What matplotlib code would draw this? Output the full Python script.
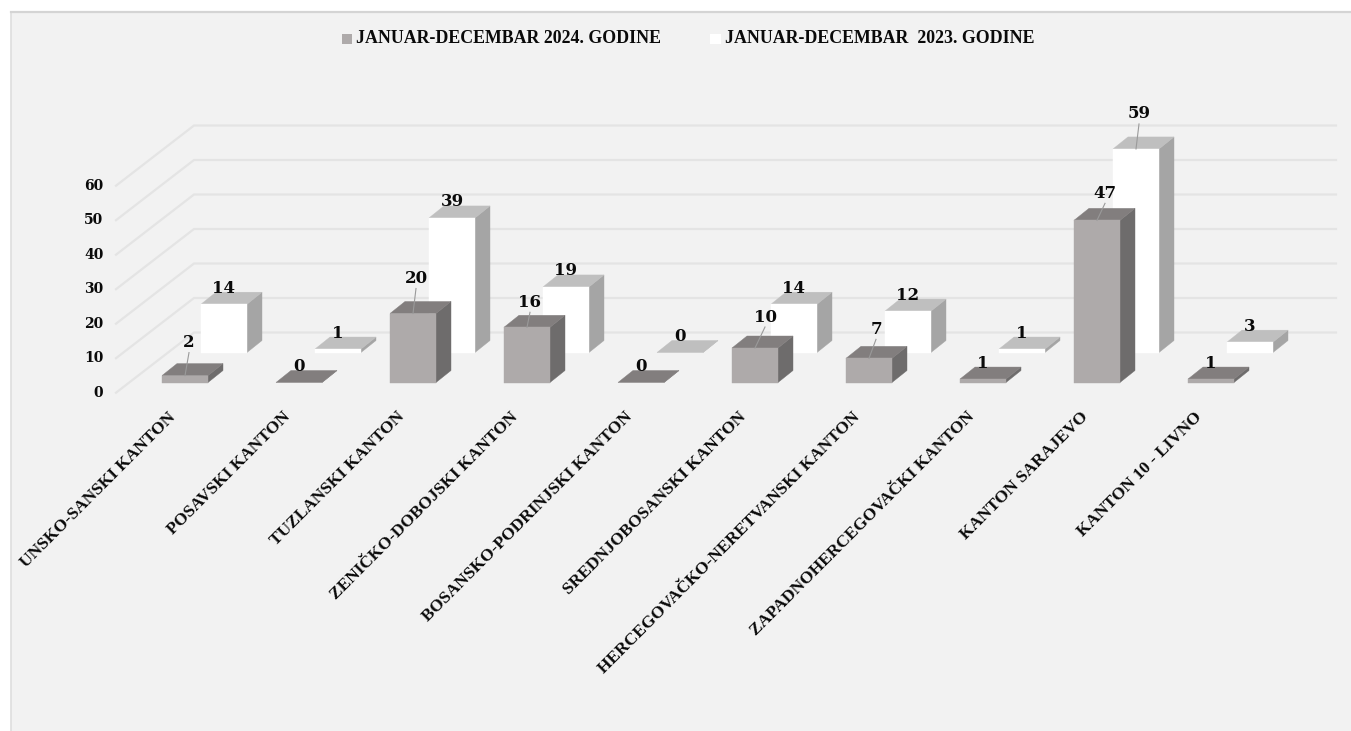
import matplotlib
matplotlib.use('Agg')
import matplotlib.pyplot as plt
from matplotlib.patches import Polygon, Rectangle

cantons = ['UNSKO-SANSKI KANTON', 'POSAVSKI KANTON', 'TUZLANSKI KANTON', 'ZENIČKO-DOBOJSKI KANTON',
           'BOSANSKO-PODRINJSKI KANTON', 'SREDNJOBOSANSKI KANTON', 'HERCEGOVAČKO-NERETVANSKI KANTON',
           'ZAPADNOHERCEGOVAČKI KANTON', 'KANTON SARAJEVO', 'KANTON 10 - LIVNO']
values_2024 = [2, 0, 20, 16, 0, 10, 7, 1, 47, 1]
values_2023 = [14, 1, 39, 19, 0, 14, 12, 1, 59, 3]
y_ticks = [0, 10, 20, 30, 40, 50, 60]
legend_2024 = 'JANUAR-DECEMBAR 2024. GODINE'
legend_2023 = 'JANUAR-DECEMBAR  2023. GODINE'

# fake 3d geometry, everything in image pixels
PX_PER_UNIT = 3.45
BAR_W = 46
STEP = 114
DX, DY = 15, 12          # bar depth
BASE_FRONT = (162, 382.5)
BASE_BACK = (201, 352.5)

serif_bold = dict(family='Liberation Serif', fontweight='bold', color='#0a0a0a')
num_bold = dict(family='DejaVu Serif', fontweight='bold', color='#0a0a0a')

fig = plt.figure(figsize=(13.51, 7.31), dpi=100, facecolor='white')
ax = fig.add_axes([0, 0, 1, 1])
ax.set_xlim(0, 1351)
ax.set_ylim(731, 0)
ax.axis('off')

# panel
ax.add_patch(Rectangle((10.5, 12), 1341, 719, fc='#f2f2f2', ec='none', zorder=0))
ax.plot([10.5, 10.5], [12, 731], color='#dedede', lw=1.2, zorder=1)
ax.plot([10.5, 1351], [12, 12], color='#d4d4d4', lw=1.6, zorder=1)

# gridlines: side wall + back wall
for t in y_ticks:
    y_back = 332.5 - t * PX_PER_UNIT
    y_left = 392.7 - t * PX_PER_UNIT
    ax.plot([116, 194, 1336], [y_left, y_back, y_back], color='#e4e4e4', lw=1.6, zorder=1,
            solid_joinstyle='miter')
    ax.text(103.5, y_left, str(t), ha='right', va='center', fontsize=10, **num_bold)


def draw_bar(x, base, val, front, top, side):
    h = val * PX_PER_UNIT
    y = base - h
    ax.add_patch(Polygon([(x + BAR_W, base), (x + BAR_W + DX, base - DY), (x + BAR_W + DX, y - DY), (x + BAR_W, y)],
                         fc=side, ec=side, lw=0.3, zorder=3))
    ax.add_patch(Polygon([(x, y), (x + DX, y - DY), (x + BAR_W + DX, y - DY), (x + BAR_W, y)],
                         fc=top, ec=top, lw=0.3, zorder=3))
    if val > 0:
        ax.add_patch(Rectangle((x, y), BAR_W, h, fc=front, ec=front, lw=0.3, zorder=3))
    return y


def put_label(x, y, val, lift, shift):
    cx = x + BAR_W / 2
    ax.text(cx + shift, y - lift + 1, str(val), ha='center', va='center', fontsize=12, zorder=6, **num_bold)
    if lift > 20:
        ax.plot([cx + shift, cx], [y - lift + 11, y], color='#9a9a9a', lw=0.8, zorder=5)


# labels moved off the bar get a leader line (same as the excel chart): index -> (lift, shift)
moved_2024 = {0: (34, 4), 2: (36, 3), 3: (26, 3), 5: (32, 10), 6: (30, 7), 8: (28, 8)}
moved_2023 = {8: (36, 3)}

for i, v in enumerate(values_2023):
    x = BASE_BACK[0] + i * STEP
    y = draw_bar(x, BASE_BACK[1], v, '#ffffff', '#bfbfbf', '#a5a5a5')
    lift, shift = moved_2023.get(i, (17, 0))
    put_label(x, y, v, lift, shift)

for i, v in enumerate(values_2024):
    x = BASE_FRONT[0] + i * STEP
    y = draw_bar(x, BASE_FRONT[1], v, '#aeaaaa', '#827e7e', '#6e6c6c')
    lift, shift = moved_2024.get(i, (17, 0))
    put_label(x, y, v, lift, shift)
    ax.text(x + 6, 409, cantons[i], rotation=45, rotation_mode='anchor', ha='right', va='top',
            fontsize=12.5, **serif_bold)

# legend
ax.add_patch(Rectangle((342, 34), 10, 10, fc='#aeaaaa', ec='none', zorder=3))
ax.text(356, 38.5, legend_2024, ha='left', va='center', fontsize=12.9, **serif_bold)
ax.add_patch(Rectangle((710, 34), 11, 10, fc='#ffffff', ec='none', zorder=3))
ax.text(725, 38.5, legend_2023, ha='left', va='center', fontsize=12.9, **serif_bold)

plt.savefig('out.png', dpi=100, facecolor=fig.get_facecolor())
